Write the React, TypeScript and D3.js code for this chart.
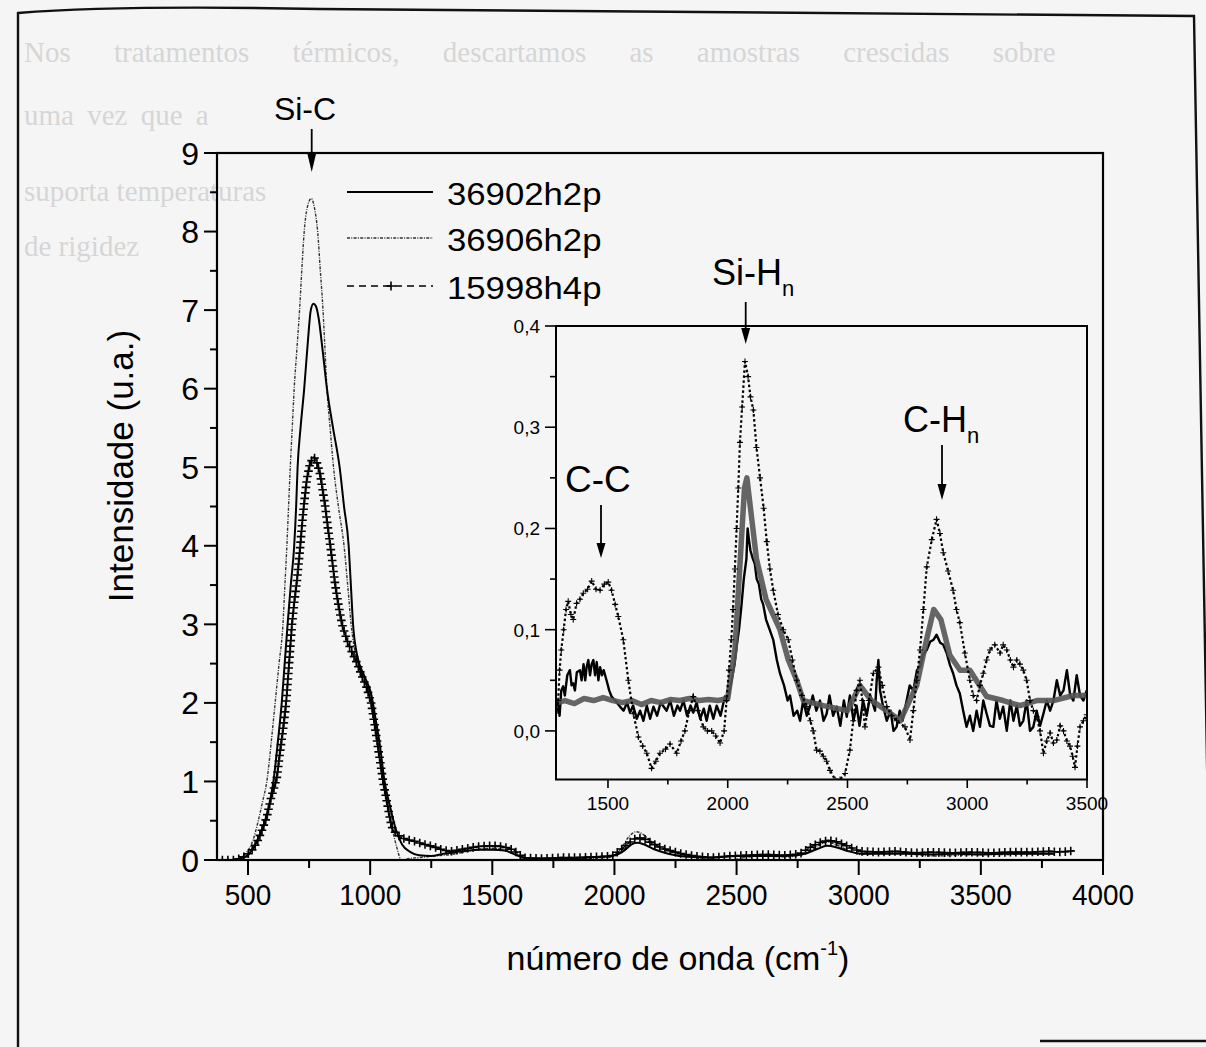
import React from 'react';
import * as d3 from 'd3';

type P = [number, number];

const W = 1206;
const H = 1047;

// ---------------- main chart data ----------------
const seriesNames = ['36902h2p', '36906h2p', '15998h4p'];
const mainXTicks = [500, 1000, 1500, 2000, 2500, 3000, 3500, 4000];
const mainXMinor = [750, 1250, 1750, 2250, 2750, 3250, 3750];
const mainYTicks = [0, 1, 2, 3, 4, 5, 6, 7, 8, 9];
const mainYMinor = [0.5, 1.5, 2.5, 3.5, 4.5, 5.5, 6.5, 7.5, 8.5];

const main36902: P[] = [
  [380, 0.0], [440, 0.0], [470, 0.02], [495, 0.05], [520, 0.15], [545, 0.3], [570, 0.5], [590, 0.75],
  [604, 1.0], [622, 1.5], [638, 2.0], [650, 2.5], [662, 3.0], [675, 3.5], [689, 4.0], [697, 4.5],
  [703, 5.0], [715, 5.5], [730, 6.0], [745, 6.6], [757, 7.0], [768, 7.08], [778, 7.05], [789, 6.9],
  [805, 6.5], [823, 6.0], [848, 5.5], [875, 5.0], [893, 4.5], [912, 4.0], [921, 3.5], [930, 3.0],
  [947, 2.6], [975, 2.35], [1005, 2.1], [1022, 1.8], [1038, 1.5], [1059, 1.0], [1080, 0.7], [1104, 0.4], [1130, 0.2],
  [1165, 0.1], [1200, 0.06], [1250, 0.05], [1300, 0.08], [1350, 0.1], [1400, 0.12], [1450, 0.13],
  [1500, 0.13], [1550, 0.12], [1600, 0.06], [1650, 0.02], [1750, 0.02], [1850, 0.03], [1950, 0.04],
  [2000, 0.06], [2040, 0.12], [2070, 0.2], [2095, 0.22], [2120, 0.2], [2160, 0.14], [2220, 0.08],
  [2300, 0.04], [2400, 0.03], [2500, 0.05], [2600, 0.05], [2700, 0.05], [2780, 0.08], [2830, 0.14],
  [2870, 0.18], [2910, 0.16], [2960, 0.11], [3010, 0.08], [3100, 0.08], [3200, 0.08], [3300, 0.07],
  [3400, 0.08], [3500, 0.07], [3600, 0.08], [3700, 0.08], [3800, 0.08],
];

const main36906: P[] = [
  [380, 0.0], [440, 0.0], [470, 0.03], [495, 0.1], [520, 0.25], [542, 0.5], [560, 0.75], [577, 1.0],
  [595, 1.5], [611, 2.0], [627, 2.5], [643, 3.0], [651, 3.5], [659, 4.0], [666, 4.5], [673, 5.0],
  [681, 5.5], [689, 6.0], [700, 6.5], [711, 7.0], [720, 7.5], [730, 8.0], [742, 8.3], [759, 8.42],
  [772, 8.3], [785, 8.0], [796, 7.5], [807, 7.0], [815, 6.5], [823, 6.0], [836, 5.5], [850, 5.0],
  [870, 4.5], [893, 4.0], [908, 3.5], [922, 3.0], [945, 2.55], [975, 2.3], [1005, 2.05], [1030, 1.5],
  [1053, 1.0], [1075, 0.6], [1090, 0.4], [1110, 0.15], [1127, 0.0], [1160, 0.02], [1200, 0.03],
  [1260, 0.05], [1330, 0.07], [1400, 0.11], [1450, 0.14], [1500, 0.15], [1550, 0.13], [1600, 0.06],
  [1650, 0.01], [1700, 0.0], [1800, 0.01], [1900, 0.02], [1990, 0.04], [2030, 0.16], [2060, 0.3],
  [2090, 0.36], [2115, 0.33], [2150, 0.24], [2200, 0.15], [2260, 0.08], [2330, 0.03], [2400, 0.0],
  [2460, -0.01], [2530, 0.03], [2600, 0.05], [2700, 0.04], [2780, 0.08], [2830, 0.17], [2870, 0.23],
  [2910, 0.19], [2960, 0.12], [3010, 0.07], [3100, 0.09], [3200, 0.08], [3300, 0.05], [3400, 0.06],
  [3500, 0.07], [3600, 0.07], [3700, 0.08], [3800, 0.08],
];

const main15998: P[] = [
  [395, 0.0], [440, 0.0], [470, 0.02], [495, 0.06], [515, 0.12], [536, 0.22], [555, 0.36], [577, 0.55],
  [595, 0.8], [605, 0.9], [618, 1.05], [632, 1.4], [645, 1.7], [656, 2.0], [668, 2.5], [680, 3.0],
  [690, 3.3], [700, 3.55], [714, 4.0], [722, 4.3], [730, 4.55], [741, 4.85], [752, 5.02], [762, 5.1],
  [770, 5.13], [780, 5.08], [796, 4.9], [806, 4.7], [816, 4.5], [826, 4.25], [837, 4.0], [847, 3.75],
  [857, 3.5], [870, 3.25], [885, 3.0], [905, 2.8], [925, 2.65], [947, 2.5], [965, 2.35], [985, 2.2],
  [1004, 2.0], [1017, 1.75], [1029, 1.5], [1041, 1.25], [1053, 1.0], [1068, 0.75], [1083, 0.5],
  [1091, 0.4], [1110, 0.32], [1140, 0.27], [1180, 0.24], [1220, 0.2], [1260, 0.17], [1295, 0.13],
  [1330, 0.11], [1365, 0.13], [1400, 0.15], [1440, 0.17], [1480, 0.18], [1520, 0.18], [1555, 0.16],
  [1585, 0.13], [1610, 0.07], [1630, 0.03], [1680, 0.02], [1720, 0.02], [1780, 0.03], [1855, 0.03],
  [1920, 0.04], [1990, 0.05], [2030, 0.14], [2060, 0.22], [2090, 0.28], [2115, 0.28], [2150, 0.22],
  [2195, 0.15], [2260, 0.09], [2330, 0.05], [2400, 0.03], [2470, 0.05], [2540, 0.06], [2620, 0.07],
  [2700, 0.06], [2760, 0.08], [2806, 0.17], [2840, 0.22], [2875, 0.25], [2910, 0.23], [2945, 0.19],
  [2980, 0.14], [3010, 0.11], [3080, 0.1], [3150, 0.11], [3230, 0.09], [3300, 0.1], [3380, 0.09],
  [3460, 0.1], [3540, 0.09], [3620, 0.1], [3700, 0.1], [3780, 0.11], [3830, 0.1], [3880, 0.12],
];

// ---------------- inset data ----------------
const insetXTicks = [1500, 2000, 2500, 3000, 3500];
const insetXMinor = [1750, 2250, 2750, 3250];
const insetYTicks = [0, 0.1, 0.2, 0.3, 0.4];
const insetYLabels = ['0,0', '0,1', '0,2', '0,3', '0,4'];
const insetYMinor = [0.05, 0.15, 0.25, 0.35];

const inset36902: P[] = [
  [1290, 0.03], [1298, 0.015], [1305, 0.04], [1313, 0.044], [1320, 0.035], [1330, 0.055], [1341, 0.06],
  [1348, 0.045], [1355, 0.047], [1362, 0.04], [1370, 0.058], [1383, 0.06], [1390, 0.05], [1398, 0.066],
  [1405, 0.05], [1411, 0.063], [1418, 0.07], [1425, 0.055], [1432, 0.066], [1439, 0.07], [1446, 0.055],
  [1453, 0.068], [1460, 0.05], [1467, 0.063], [1475, 0.055], [1482, 0.06], [1494, 0.05], [1505, 0.04],
  [1515, 0.034], [1530, 0.03], [1550, 0.024], [1565, 0.02], [1580, 0.028], [1592, 0.018], [1605, 0.025],
  [1620, 0.012], [1634, 0.02], [1648, 0.01], [1662, 0.025], [1676, 0.012], [1690, 0.024], [1705, 0.015],
  [1720, 0.028], [1745, 0.02], [1760, 0.03], [1775, 0.015], [1790, 0.025], [1801, 0.02], [1815, 0.03],
  [1830, 0.015], [1845, 0.025], [1856, 0.018], [1870, 0.028], [1885, 0.012], [1900, 0.022], [1912, 0.01],
  [1925, 0.025], [1940, 0.012], [1954, 0.025], [1970, 0.015], [1988, 0.034], [2000, 0.03], [2016, 0.05],
  [2028, 0.065], [2037, 0.083], [2047, 0.1], [2057, 0.123], [2067, 0.15], [2078, 0.17], [2083, 0.2],
  [2088, 0.19], [2095, 0.178], [2105, 0.17], [2113, 0.165], [2121, 0.15], [2130, 0.145], [2140, 0.13],
  [2148, 0.125], [2160, 0.11], [2175, 0.1], [2190, 0.09], [2205, 0.07], [2218, 0.057], [2235, 0.045],
  [2250, 0.03], [2260, 0.035], [2275, 0.015], [2290, 0.02], [2302, 0.01], [2315, 0.03], [2330, 0.015],
  [2343, 0.024], [2355, 0.035], [2370, 0.02], [2385, 0.03], [2400, 0.01], [2413, 0.017], [2425, 0.035],
  [2440, 0.015], [2455, 0.024], [2470, 0.005], [2485, 0.03], [2497, 0.014], [2510, 0.035], [2525, 0.01],
  [2538, 0.025], [2550, 0.005], [2565, 0.03], [2580, 0.015], [2595, 0.035], [2615, 0.02], [2622, 0.05],
  [2629, 0.07], [2636, 0.04], [2648, 0.025], [2664, 0.01], [2680, 0.02], [2692, 0.0], [2705, 0.004],
  [2718, 0.02], [2730, 0.01], [2747, 0.03], [2760, 0.045], [2775, 0.04], [2790, 0.06], [2803, 0.063],
  [2815, 0.075], [2831, 0.08], [2845, 0.088], [2859, 0.09], [2872, 0.095], [2887, 0.087], [2900, 0.085],
  [2914, 0.077], [2928, 0.065], [2941, 0.057], [2955, 0.045], [2969, 0.037], [2983, 0.02], [2997, 0.004],
  [3011, 0.015], [3025, 0.0], [3039, 0.02], [3053, 0.004], [3067, 0.03], [3081, 0.017], [3095, 0.005],
  [3109, 0.004], [3122, 0.03], [3136, 0.012], [3150, 0.024], [3165, 0.0], [3180, 0.03], [3193, 0.01],
  [3207, 0.025], [3220, 0.005], [3234, 0.01], [3248, 0.03], [3262, 0.0], [3276, 0.004], [3290, 0.02],
  [3304, 0.005], [3318, 0.017], [3332, 0.03], [3346, 0.02], [3360, 0.03], [3374, 0.05], [3388, 0.035],
  [3402, 0.04], [3416, 0.06], [3430, 0.035], [3443, 0.03], [3457, 0.055], [3471, 0.035], [3485, 0.03],
  [3499, 0.04],
];

const inset36906: P[] = [
  [1288, 0.02], [1292, 0.03], [1298, 0.06], [1305, 0.08], [1315, 0.1], [1325, 0.12], [1334, 0.128],
  [1345, 0.115], [1355, 0.11], [1369, 0.126], [1383, 0.13], [1397, 0.136], [1415, 0.14], [1432, 0.148],
  [1450, 0.14], [1467, 0.139], [1485, 0.145], [1501, 0.147], [1515, 0.139], [1530, 0.125], [1543, 0.113],
  [1564, 0.09], [1585, 0.05], [1606, 0.017], [1627, -0.006], [1645, -0.015], [1662, -0.022], [1682, -0.037],
  [1700, -0.03], [1717, -0.022], [1740, -0.018], [1759, -0.013], [1787, -0.022], [1805, -0.01], [1821, 0.0],
  [1840, 0.02], [1856, 0.034], [1875, 0.02], [1898, 0.004], [1915, 0.0], [1933, 0.0], [1950, -0.005],
  [1968, -0.012], [1985, 0.0], [1995, 0.03], [2005, 0.06], [2015, 0.09], [2022, 0.12], [2030, 0.16],
  [2037, 0.2], [2044, 0.24], [2051, 0.285], [2060, 0.32], [2072, 0.365], [2085, 0.35], [2095, 0.33],
  [2107, 0.317], [2120, 0.28], [2135, 0.25], [2150, 0.22], [2163, 0.187], [2176, 0.16], [2190, 0.139],
  [2210, 0.115], [2232, 0.1], [2253, 0.09], [2270, 0.07], [2288, 0.05], [2310, 0.035], [2330, 0.024],
  [2345, 0.01], [2357, 0.0], [2371, -0.019], [2385, -0.02], [2399, -0.025], [2413, -0.03], [2427, -0.039],
  [2448, -0.048], [2469, -0.048], [2490, -0.042], [2510, -0.019], [2524, 0.01], [2538, 0.04], [2552, 0.05],
  [2562, 0.03], [2573, 0.004], [2590, 0.03], [2608, 0.057], [2629, 0.063], [2645, 0.045], [2664, 0.024],
  [2685, 0.015], [2705, 0.01], [2740, 0.004], [2761, -0.009], [2775, 0.02], [2789, 0.05], [2803, 0.08],
  [2817, 0.12], [2831, 0.162], [2852, 0.189], [2872, 0.209], [2886, 0.195], [2900, 0.176], [2920, 0.158],
  [2941, 0.139], [2955, 0.12], [2969, 0.107], [2990, 0.077], [3011, 0.05], [3025, 0.035], [3039, 0.03],
  [3053, 0.045], [3067, 0.057], [3081, 0.07], [3095, 0.08], [3115, 0.085], [3137, 0.077], [3150, 0.085],
  [3165, 0.08], [3180, 0.07], [3193, 0.063], [3207, 0.07], [3220, 0.066], [3234, 0.06], [3248, 0.05],
  [3262, 0.03], [3276, 0.02], [3290, 0.014], [3304, 0.0], [3318, -0.022], [3332, -0.01], [3346, -0.002],
  [3360, -0.012], [3374, -0.009], [3388, 0.005], [3402, 0.0], [3416, -0.01], [3429, -0.015], [3440, -0.025],
  [3450, -0.036], [3460, -0.015], [3471, 0.004], [3485, 0.01], [3499, 0.016],
];

const inset15998: P[] = [
  [1290, 0.028], [1320, 0.03], [1360, 0.027], [1400, 0.032], [1440, 0.03], [1480, 0.033], [1520, 0.03],
  [1560, 0.028], [1600, 0.03], [1640, 0.026], [1680, 0.03], [1720, 0.028], [1760, 0.031], [1800, 0.03],
  [1840, 0.032], [1880, 0.03], [1920, 0.031], [1960, 0.03], [2000, 0.032], [2030, 0.08], [2050, 0.16],
  [2070, 0.24], [2080, 0.25], [2095, 0.22], [2120, 0.17], [2160, 0.13], [2218, 0.1], [2253, 0.07],
  [2288, 0.05], [2316, 0.03], [2400, 0.025], [2500, 0.02], [2552, 0.045], [2600, 0.03], [2664, 0.02],
  [2720, 0.01], [2789, 0.045], [2830, 0.09], [2860, 0.12], [2890, 0.11], [2927, 0.075], [2970, 0.06],
  [3011, 0.06], [3081, 0.034], [3150, 0.03], [3220, 0.025], [3290, 0.03], [3360, 0.03], [3443, 0.035],
  [3499, 0.035],
];

// faint bleed-through text of the scanned page (only the parts clear of the chart)
const pageLines: { text: string; y: number; ws?: number }[] = [
  { text: 'Nos tratamentos térmicos, descartamos as amostras crescidas sobre', y: 62, ws: 36 },
  { text: 'uma vez que a', y: 125, ws: 6 },
  { text: 'suporta temperaturas', y: 201 },
  { text: 'de rigidez', y: 256 },
];

// ---------------- scales ----------------
const mx = d3.scaleLinear().domain([373, 4000]).range([217, 1103]);
const my = d3.scaleLinear().domain([0, 9]).range([860, 153]);
const ix = d3.scaleLinear().domain([1283, 3500]).range([556, 1087]);
const iy = d3.scaleLinear().domain([-0.048, 0.4]).range([779.5, 326]);

const mainLine = d3.line<P>().x((d) => mx(d[0])).y((d) => my(d[1])).curve(d3.curveMonotoneX);
const insetLine = d3.line<P>().x((d) => ix(d[0])).y((d) => iy(d[1]));

function plusPath(pts: P[], s: number): string {
  return pts.map(([x, y]) => `M${x - s},${y}H${x + s}M${x},${y - s}V${y + s}`).join('');
}

// marker decoration spaced evenly along the drawn polyline (pixel space)
function alongLine(pts: P[], step: number): P[] {
  const out: P[] = [pts[0]];
  let acc = 0;
  for (let i = 1; i < pts.length; i++) {
    const [x0, y0] = pts[i - 1];
    const [x1, y1] = pts[i];
    const seg = Math.hypot(x1 - x0, y1 - y0);
    let d = step - acc;
    while (d <= seg) {
      const t = d / seg;
      out.push([x0 + t * (x1 - x0), y0 + t * (y1 - y0)]);
      d += step;
    }
    acc = seg - (d - step);
  }
  return out;
}

const FONT = '"Liberation Sans", Arial, sans-serif';
const BG = '#f5f5f5';

function Arrow({ x, y0, y1, head }: { x: number; y0: number; y1: number; head: number }) {
  return (
    <g>
      <line x1={x} x2={x} y1={y0} y2={y1 - head + 2} stroke="#000" strokeWidth={1.8} />
      <path d={`M${x - 4.5},${y1 - head}L${x + 4.5},${y1 - head}L${x},${y1}Z`} fill="#000" />
    </g>
  );
}

export default function App() {
  const px15998: P[] = main15998.map((d) => [mx(d[0]), my(d[1])]);
  const crosses = alongLine(px15998, 5.5);
  const insetCrosses: P[] = inset36906.map((d) => [ix(d[0]), iy(d[1])]);

  const legendRows = [192, 238, 286];

  return (
    <svg
      width={W}
      height={H}
      viewBox={`0 0 ${W} ${H}`}
      style={{ position: 'absolute', left: 0, top: 0, display: 'block' }}
      fontFamily={FONT}
    >
      <defs>
        <clipPath id="mainClip">
          <rect x={217} y={153} width={1103 - 217} height={860 - 153 + 1} />
        </clipPath>
        <clipPath id="insetClip">
          <rect x={556} y={326} width={1087 - 556} height={779.5 - 326} />
        </clipPath>
      </defs>
      <rect x={0} y={0} width={W} height={H} fill={BG} />

      {/* bleed-through page text */}
      <g fontFamily='"Liberation Serif", "Times New Roman", serif' fontSize={29} fill="#d6d6d6">
        {pageLines.map((l, i) => (
          <text key={i} x={24} y={l.y} style={l.ws ? { wordSpacing: `${l.ws}px` } : undefined}>
            {l.text}
          </text>
        ))}
      </g>

      {/* page frame */}
      <path
        d="M18,1047 L18,13 Q120,5 320,9 L1194,16 L1212,1047"
        fill="none"
        stroke="#111"
        strokeWidth={2.4}
      />
      <line x1={1040} x2={1206} y1={1041} y2={1041} stroke="#111" strokeWidth={2.4} />

      {/* ---------- main plot ---------- */}
      <g clipPath="url(#mainClip)">
        <path d={mainLine(main36906) || ''} fill="none" stroke="#333" strokeWidth={1.4} strokeDasharray="3,1.3,1,1.3" />
        <path d={mainLine(main36902) || ''} fill="none" stroke="#000" strokeWidth={2} />
        <path d={mainLine(main15998) || ''} fill="none" stroke="#000" strokeWidth={1.6} strokeDasharray="5,3" />
        <path d={plusPath(crosses, 4.3)} fill="none" stroke="#000" strokeWidth={1.6} />
      </g>

      <rect x={217} y={153} width={1103 - 217} height={860 - 153} fill="none" stroke="#000" strokeWidth={2.2} />

      {/* main x ticks */}
      {mainXTicks.map((t) => (
        <g key={'mx' + t}>
          <line x1={mx(t)} x2={mx(t)} y1={860} y2={875} stroke="#000" strokeWidth={2} />
          <text
            transform={`translate(${mx(t)},905) scale(0.93,1)`}
            textAnchor="middle"
            fontSize={30}
            fill="#000"
          >
            {t}
          </text>
        </g>
      ))}
      {mainXMinor.map((t) => (
        <line key={'mxm' + t} x1={mx(t)} x2={mx(t)} y1={860} y2={868} stroke="#000" strokeWidth={2} />
      ))}

      {/* main y ticks */}
      {mainYTicks.map((t) => (
        <g key={'my' + t}>
          <line x1={204} x2={217} y1={my(t)} y2={my(t)} stroke="#000" strokeWidth={2} />
          <text x={199} y={my(t) + 11.5} textAnchor="end" fontSize={32} fill="#000">
            {t}
          </text>
        </g>
      ))}
      {mainYMinor.map((t) => (
        <line key={'mym' + t} x1={210} x2={217} y1={my(t)} y2={my(t)} stroke="#000" strokeWidth={2} />
      ))}

      {/* axis titles */}
      <text transform="translate(133,466) rotate(-90)" textAnchor="middle" fontSize={35} fill="#000">
        Intensidade (u.a.)
      </text>
      <text x={678} y={970} textAnchor="middle" fontSize={34} fill="#000">
        <tspan>número de onda (cm</tspan>
        <tspan fontSize={20} dy={-15}>-1</tspan>
        <tspan dy={15}>)</tspan>
      </text>

      {/* Si-C label */}
      <text x={305} y={120} textAnchor="middle" fontSize={32} fill="#000">
        Si-C
      </text>
      <Arrow x={311.7} y0={129} y1={172} head={19} />

      {/* legend */}
      <line x1={347} x2={433} y1={legendRows[0]} y2={legendRows[0]} stroke="#000" strokeWidth={2} />
      <line x1={347} x2={433} y1={legendRows[1]} y2={legendRows[1]} stroke="#333" strokeWidth={1.4} strokeDasharray="3,1.3,1,1.3" />
      <line x1={347} x2={433} y1={legendRows[2]} y2={legendRows[2]} stroke="#000" strokeWidth={1.6} strokeDasharray="7,5" />
      <path d={plusPath([[391, legendRows[2]]], 4.5)} stroke="#000" strokeWidth={1.6} />
      {seriesNames.map((n, i) => (
        <text
          key={n}
          transform={`translate(447,${legendRows[i] + 12.5}) scale(1.12,1)`}
          fontSize={31}
          fill="#000"
        >
          {n}
        </text>
      ))}

      {/* ---------- inset ---------- */}
      <rect x={556} y={326} width={1087 - 556} height={779.5 - 326} fill={BG} />
      <g clipPath="url(#insetClip)">
        <path d={insetLine(inset36902) || ''} fill="none" stroke="#000" strokeWidth={2.4} strokeLinejoin="round" />
        <path d={insetLine(inset15998) || ''} fill="none" stroke="#555" strokeWidth={5.5} strokeOpacity={0.9} strokeLinejoin="round" />
        <path d={insetLine(inset36906) || ''} fill="none" stroke="#000" strokeWidth={2.2} strokeDasharray="2.5,2.5" />
        <path d={plusPath(insetCrosses, 3)} fill="none" stroke="#000" strokeWidth={1.1} />
      </g>
      <rect x={556} y={326} width={1087 - 556} height={779.5 - 326} fill="none" stroke="#000" strokeWidth={2} />

      {insetXTicks.map((t) => (
        <g key={'ix' + t}>
          <line x1={ix(t)} x2={ix(t)} y1={779.5} y2={788} stroke="#000" strokeWidth={1.6} />
          <text x={ix(t)} y={810} textAnchor="middle" fontSize={19} fill="#000">
            {t}
          </text>
        </g>
      ))}
      {insetXMinor.map((t) => (
        <line key={'ixm' + t} x1={ix(t)} x2={ix(t)} y1={779.5} y2={784.5} stroke="#000" strokeWidth={1.6} />
      ))}
      {insetYTicks.map((t, i) => (
        <g key={'iy' + t}>
          <line x1={545} x2={556} y1={iy(t)} y2={iy(t)} stroke="#000" strokeWidth={1.6} />
          <text x={540} y={iy(t) + 7} textAnchor="end" fontSize={19} fill="#000">
            {insetYLabels[i]}
          </text>
        </g>
      ))}
      {insetYMinor.map((t) => (
        <line key={'iym' + t} x1={550} x2={556} y1={iy(t)} y2={iy(t)} stroke="#000" strokeWidth={1.6} />
      ))}

      {/* inset annotations */}
      <text x={712} y={285} fontSize={36} fill="#000">
        <tspan>Si-H</tspan>
        <tspan fontSize={22} dy={11}>n</tspan>
      </text>
      <Arrow x={745.7} y0={302} y1={344} head={16} />

      <text x={565} y={492} fontSize={37} fill="#000">
        C-C
      </text>
      <Arrow x={601} y0={505} y1={558} head={15} />

      <text x={903} y={432} fontSize={36} fill="#000">
        <tspan>C-H</tspan>
        <tspan fontSize={22} dy={11}>n</tspan>
      </text>
      <Arrow x={942} y0={445} y1={500} head={16} />
    </svg>
  );
}
